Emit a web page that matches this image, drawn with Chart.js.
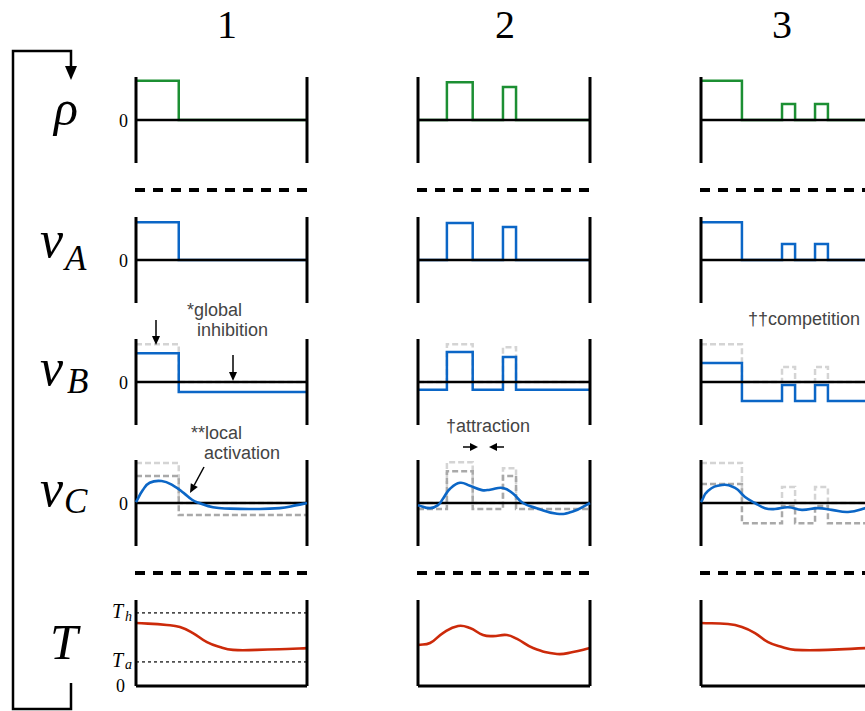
<!DOCTYPE html>
<html>
<head>
<meta charset="utf-8">
<script src="https://cdn.jsdelivr.net/npm/chart.js@4/dist/chart.umd.min.js"></script>
<style>
html, body { margin: 0; padding: 0; background: #fff; }
#wrap { position: relative; width: 865px; height: 711px; overflow: hidden; }
#wrap canvas { position: absolute; }
.t { position: absolute; white-space: nowrap; line-height: 1; }
.hd { font-family: "Liberation Serif", serif; font-size: 40px; transform: translateX(-50%); }
.mv { font-family: "Liberation Serif", serif; font-style: italic; font-size: 52px; }
.mb { font-family: "Liberation Serif", serif; font-style: italic; font-size: 50px; }
.ms { font-family: "Liberation Serif", serif; font-style: italic; font-size: 35px; }
.zr { font-family: "Liberation Serif", serif; font-size: 18px; }
.tl { font-family: "Liberation Serif", serif; font-style: italic; font-size: 20px; }
.tls { font-family: "Liberation Serif", serif; font-style: italic; font-size: 14px; }
.nt { font-family: "Liberation Sans", Arial, sans-serif; font-size: 18px; color: #444; }
svg { position: absolute; left: 0; top: 0; }
</style>
</head>
<body>
<div id="wrap">
  <!-- column headers -->
  <div class="t hd" style="left:227px;top:5px">1</div>
  <div class="t hd" style="left:505px;top:5px">2</div>
  <div class="t hd" style="left:782px;top:5px">3</div>

  <!-- row labels -->
  <div class="t mb" style="left:54px;top:83px">ρ</div>
  <div class="t mv" style="left:40px;top:214px">v</div>
  <div class="t ms" style="left:65px;top:241px">A</div>
  <div class="t mv" style="left:40px;top:342px">v</div>
  <div class="t ms" style="left:67px;top:364px">B</div>
  <div class="t mv" style="left:40px;top:463px">v</div>
  <div class="t ms" style="left:64px;top:484px">C</div>
  <div class="t mb" style="left:50px;top:617px">T</div>

  <!-- zero ticks, column 1 only -->
  <div class="t zr" style="left:119px;top:112px">0</div>
  <div class="t zr" style="left:119px;top:252px">0</div>
  <div class="t zr" style="left:119px;top:374px">0</div>
  <div class="t zr" style="left:119px;top:495px">0</div>
  <div class="t zr" style="left:116px;top:677px">0</div>
  <div class="t tl" style="left:112px;top:601px">T</div>
  <div class="t tls" style="left:125px;top:610px">h</div>
  <div class="t tl" style="left:112px;top:650px">T</div>
  <div class="t tls" style="left:125px;top:658px">a</div>

  <!-- notes -->
  <div class="t nt" style="left:187px;top:301px">*global</div>
  <div class="t nt" style="left:197px;top:321px">inhibition</div>
  <div class="t nt" style="left:191px;top:424px">**local</div>
  <div class="t nt" style="left:204px;top:444px">activation</div>
  <div class="t nt" style="left:446px;top:417px">†attraction</div>
  <div class="t nt" style="left:748px;top:310px">††competition</div>
</div>

<script>
// step positions across the domain (fraction of width) for each panel column
const space1 = [0, 0.25, 1];
const space2 = [0, 0.168, 0.318, 0.494, 0.57, 1];
const space3 = [0, 0.238, 0.471, 0.547, 0.663, 0.738, 1];

// rho (input)
const rho1 = [0.91, 0];
const rho2 = [0, 0.88, 0, 0.77, 0];
const rho3 = [0.91, 0, 0.37, 0, 0.37, 0];

// v_A
const vA1 = [0.88, 0];
const vA2 = [0, 0.86, 0, 0.77, 0];
const vA3 = [0.88, 0, 0.37, 0, 0.37, 0];

// v_B and its ghost (v_A)
const vB1 = [0.67, -0.23];
const vB2 = [-0.18, 0.70, -0.18, 0.58, -0.18];
const vB3 = [0.44, -0.44, -0.07, -0.44, -0.07, -0.44];
const vBghost1 = [0.88, 0];
const vBghost2 = [0, 0.88, 0, 0.81, 0];
const vBghost3 = [0.88, 0, 0.35, 0, 0.35, 0];

// v_C ghosts: light = v_A, dark = v_B
const vCghostA1 = [0.93, 0];
const vCghostA2 = [0, 0.95, 0, 0.81, 0];
const vCghostA3 = [0.93, 0, 0.37, 0, 0.37, 0];
const vCghostB1 = [0.63, -0.28];
const vCghostB2 = [-0.14, 0.74, -0.14, 0.63, -0.14];
const vCghostB3 = [0.44, -0.47, -0.07, -0.47, -0.07, -0.47];

// v_C curves
const vC1x = [0, 0.04, 0.08, 0.15, 0.22, 0.28, 0.33, 0.37, 0.45, 0.55, 0.68, 0.84, 0.94, 1];
const vC1y = [0.02, 0.3, 0.47, 0.51, 0.4, 0.23, 0.07, 0, -0.1, -0.13, -0.14, -0.12, -0.05, 0];
const vC2x = [0, 0.07, 0.116, 0.145, 0.186, 0.244, 0.302, 0.372, 0.419, 0.494, 0.552, 0.61, 0.69, 0.808, 0.9, 1];
const vC2y = [-0.05, -0.12, -0.05, 0.1, 0.33, 0.47, 0.4, 0.3, 0.31, 0.35, 0.22, 0, -0.12, -0.25, -0.2, 0];
const vC3x = [0, 0.04, 0.122, 0.198, 0.256, 0.314, 0.372, 0.43, 0.506, 0.587, 0.68, 0.76, 0.855, 0.953, 1];
const vC3y = [0.02, 0.28, 0.42, 0.35, 0.14, 0, -0.12, -0.14, -0.1, -0.16, -0.12, -0.16, -0.21, -0.12, -0.03];

// temperature
const T1x = [0, 0.18, 0.257, 0.333, 0.415, 0.49, 0.567, 0.708, 0.883, 1];
const T1y = [0.733, 0.71, 0.686, 0.616, 0.51, 0.453, 0.42, 0.42, 0.43, 0.44];
const T2x = [0, 0.07, 0.145, 0.233, 0.302, 0.378, 0.436, 0.517, 0.576, 0.669, 0.808, 0.901, 1];
const T2y = [0.477, 0.5, 0.616, 0.698, 0.674, 0.593, 0.58, 0.593, 0.547, 0.442, 0.372, 0.395, 0.442];
const T3x = [0, 0.157, 0.238, 0.314, 0.39, 0.471, 0.547, 0.738, 0.953, 1];
const T3y = [0.733, 0.72, 0.686, 0.616, 0.51, 0.453, 0.42, 0.42, 0.44, 0.445];
const tempThresholds = [0.85, 0.28];   // T_h, T_a

const GREEN = '#1c8f33', BLUE = '#0b66c6', RED = '#cc2a0a';
const GHOST_A = '#d4d4d4', GHOST_B = '#a9a9a9';

// layout of the panel grid (page pixels)
const colLeft = [136, 418, 701];
const colWidth = [171, 172, 172];
const rowTop = [77, 217, 339, 460, 600];
const PANEL_H = 86, PAD = 8;

function steps(edges, levels) {
    const pts = levels.map((v, i) => ({ x: edges[i], y: v }));
    pts.push({ x: edges[edges.length - 1], y: levels[levels.length - 1] });
    return pts;
}
function pairs(xs, ys) {
    return xs.map((x, i) => ({ x: x, y: ys[i] }));
}
function ds(data, color, width, order, extra) {
    return Object.assign({
        data: data, borderColor: color, borderWidth: width,
        pointRadius: 0, fill: false, clip: false, order: order, tension: 0
    }, extra || {});
}
function frame(lo) {
    // two walls plus the baseline (zero line or bottom)
    return [
        ds([{ x: 0, y: lo }, { x: 0, y: 1 }], '#000', 3, 0),
        ds([{ x: 1, y: lo }, { x: 1, y: 1 }], '#000', 3, 0),
        ds([{ x: 0, y: 0 }, { x: 1, y: 0 }], '#000', lo < 0 ? 2.5 : 3, 0)
    ];
}
function stepDs(edges, levels, color, order, dash) {
    return ds(steps(edges, levels), color, 2.5, order, dash ? { stepped: 'before', borderDash: [6, 3] } : { stepped: 'before' });
}
function curveDs(xs, ys, color, order) {
    return ds(pairs(xs, ys), color, 2.6, order, { tension: 0.45 });
}

function panel(row, col, datasets, lo) {
    const cv = document.createElement('canvas');
    cv.width = colWidth[col] + 2 * PAD;
    cv.height = PANEL_H + 2 * PAD;
    cv.style.left = (colLeft[col] - PAD) + 'px';
    cv.style.top = (rowTop[row] - PAD) + 'px';
    document.getElementById('wrap').appendChild(cv);
    new Chart(cv, {
        type: 'line',
        data: { datasets: datasets },
        options: {
            responsive: false, animation: false, events: [],
            layout: { padding: PAD },
            plugins: { legend: { display: false }, tooltip: { enabled: false } },
            scales: {
                x: { type: 'linear', min: 0, max: 1, display: false },
                y: { min: lo, max: 1, display: false }
            }
        }
    });
}

const spaces = [space1, space2, space3];
const rhoS = [rho1, rho2, rho3];
const vAS = [vA1, vA2, vA3];
const vBS = [vB1, vB2, vB3];
const vBG = [vBghost1, vBghost2, vBghost3];
const vCGA = [vCghostA1, vCghostA2, vCghostA3];
const vCGB = [vCghostB1, vCghostB2, vCghostB3];
const vCX = [vC1x, vC2x, vC3x], vCY = [vC1y, vC2y, vC3y];
const TX = [T1x, T2x, T3x], TY = [T1y, T2y, T3y];

for (let c = 0; c < 3; c++) {
    const sp = spaces[c];
    panel(0, c, frame(-1).concat([stepDs(sp, rhoS[c], GREEN, 1)]), -1);
    panel(1, c, frame(-1).concat([stepDs(sp, vAS[c], BLUE, 1)]), -1);
    panel(2, c, frame(-1).concat([
        stepDs(sp, vBS[c], BLUE, 1),
        stepDs(sp, vBG[c], GHOST_A, 3, true)
    ]), -1);
    panel(3, c, [curveDs(vCX[c], vCY[c], BLUE, -1)].concat(frame(-1)).concat([
        stepDs(sp, vCGB[c], GHOST_B, 2, true),
        stepDs(sp, vCGA[c], GHOST_A, 3, true)
    ]), -1);
    const tSets = [curveDs(TX[c], TY[c], RED, 1)].concat(frame(0));
    if (c === 0) {
        tempThresholds.forEach(v => {
            tSets.push(ds([{ x: 0, y: v }, { x: 1, y: v }], '#000', 1.2, 2, { borderDash: [3, 3] }));
        });
    }
    panel(4, c, tSets, 0);
}

// decorations: feedback loop, separators, annotation arrows
const svgNS = 'http://www.w3.org/2000/svg';
const svg = document.createElementNS(svgNS, 'svg');
svg.setAttribute('width', 865);
svg.setAttribute('height', 711);
svg.innerHTML =
    '<polyline points="71,67 71,51 13,51 13,709 71,709 71,683" fill="none" stroke="#000" stroke-width="2.5"/>' +
    '<polygon points="65,66 77,66 71,80" fill="#000"/>' +
    [190, 573].map(y =>
        '<line x1="135" y1="' + y + '" x2="309" y2="' + y + '" stroke="#000" stroke-width="4" stroke-dasharray="10 8"/>' +
        '<line x1="417" y1="' + y + '" x2="591" y2="' + y + '" stroke="#000" stroke-width="4" stroke-dasharray="10 8"/>' +
        '<line x1="700" y1="' + y + '" x2="874" y2="' + y + '" stroke="#000" stroke-width="4" stroke-dasharray="10 8"/>'
    ).join('') +
    '<line x1="156" y1="320" x2="156" y2="337" stroke="#000" stroke-width="1.5"/>' +
    '<polygon points="152,336 160,336 156,345" fill="#000"/>' +
    '<line x1="233" y1="355" x2="233" y2="373" stroke="#000" stroke-width="1.5"/>' +
    '<polygon points="229,372 237,372 233,381" fill="#000"/>' +
    '<line x1="204" y1="467" x2="194.3" y2="485" stroke="#000" stroke-width="1.5"/>' +
    '<polygon points="197.8,487 190.8,483.2 190,493" fill="#000"/>' +
    '<line x1="463" y1="447" x2="471" y2="447" stroke="#000" stroke-width="1.5"/>' +
    '<polygon points="470,443 470,451 478,447" fill="#000"/>' +
    '<line x1="504" y1="447" x2="496" y2="447" stroke="#000" stroke-width="1.5"/>' +
    '<polygon points="497,443 497,451 489,447" fill="#000"/>';
document.getElementById('wrap').appendChild(svg);
</script>
</body>
</html>
